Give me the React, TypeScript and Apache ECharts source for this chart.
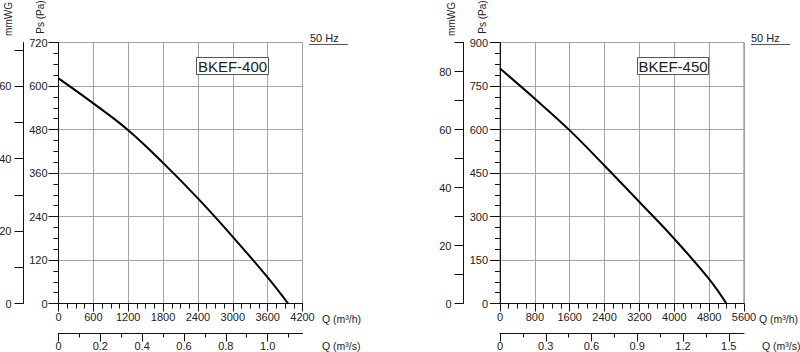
import React, { useEffect, useRef } from "react";
import * as echarts from "echarts";

// ---- Data ----
const flowL = [0, 600, 1200, 1800, 2400, 3000, 3600, 3952];
const pressureL = [621, 552, 478, 388, 290, 184, 72, 0];
const flowR = [0, 800, 1600, 2400, 3200, 4000, 4800, 5196];
const pressureR = [810, 706, 597, 475, 350, 223, 84, 0];

const titleL = "BKEF-400";
const titleR = "BKEF-450";
const freqLabel = "50 Hz";

// tick / label sets
const mmwgTicksL = [0, 10, 20, 30, 40, 50, 60, 70];
const mmwgLabelsL = [0, 20, 40, 60];
const mmwgTicksR = [0, 10, 20, 30, 40, 50, 60, 70, 80, 90];
const mmwgLabelsR = [0, 20, 40, 60, 80];
const qsMajorL = [0, 0.2, 0.4, 0.6, 0.8, 1.0];
const qsMinorL = [0.1, 0.3, 0.5, 0.7, 0.9, 1.1];
const qsMajorR = [0, 0.3, 0.6, 0.9, 1.2, 1.5];
const qsMinorR = [0.15, 0.45, 0.75, 1.05, 1.35];

const FONT = "Liberation Sans, Arial, Helvetica, sans-serif";
const TXT = "#222";
const AX = "#111";
const GRIDC = "#a3a3a3";

function qsFmt(v: number) {
  return v === 0 ? "0" : v.toFixed(1);
}

export default function App() {
  const ref = useRef<HTMLDivElement>(null);
  useEffect(() => {
    if (!ref.current) return;
    const chart = echarts.init(ref.current, null, { renderer: "svg" });

    const labelStyle = { color: TXT, fontSize: 11, fontFamily: FONT };

    const gridTop = 42.5;
    const gridBottom = 352 - 303.5;

    const mainX = (grid: number, max: number, interval: number) => ({
      type: "value",
      gridIndex: grid,
      position: "bottom",
      min: 0,
      max,
      interval,
      axisLine: { show: true, onZero: false, lineStyle: { color: AX, width: 1 } },
      axisTick: { show: true, length: 8, lineStyle: { color: AX } },
      minorTick: { show: true, splitNumber: 4, length: 5, lineStyle: { color: AX } },
      axisLabel: { ...labelStyle, margin: 8, formatter: (v: number) => String(v) },
      splitLine: { show: true, lineStyle: { color: GRIDC, width: 1 } },
      minorSplitLine: { show: false },
    });

    const paAxis = (grid: number, max: number, interval: number, margin: number) => ({
      type: "value",
      gridIndex: grid,
      position: "left",
      min: 0,
      max,
      interval,
      axisLine: { show: true, onZero: false, lineStyle: { color: AX, width: 1 } },
      axisTick: { show: true, length: 10, lineStyle: { color: AX } },
      minorTick: { show: true, splitNumber: 4, length: 5, lineStyle: { color: AX } },
      axisLabel: { ...labelStyle, margin, formatter: (v: number) => String(v) },
      splitLine: { show: true, lineStyle: { color: GRIDC, width: 1 } },
    });

    // m3/s axis in its own thin grid (major ticks + labels)
    const qsMajorAxis = (grid: number, max: number, majors: number[]) => ({
      type: "value",
      gridIndex: grid,
      position: "bottom",
      min: 0,
      max,
      interval: majors[1],
      axisLine: { show: true, onZero: false, lineStyle: { color: AX, width: 1 } },
      axisTick: { show: true, length: 8, customValues: majors, lineStyle: { color: AX } },
      axisLabel: { ...labelStyle, margin: 7, customValues: majors, formatter: qsFmt },
      splitLine: { show: false },
    });
    const qsMinorAxis = (grid: number, max: number, minors: number[]) => ({
      type: "value",
      gridIndex: grid,
      position: "bottom",
      min: 0,
      max,
      axisLine: { show: false, onZero: false },
      axisTick: { show: true, length: 4, customValues: minors, lineStyle: { color: AX } },
      axisLabel: { show: false },
      splitLine: { show: false },
    });

    // mmWG axis in its own thin grid
    const mmAxis = (grid: number, max: number, ticks: number[], labels: number[]) => ({
      type: "value",
      gridIndex: grid,
      position: "left",
      min: 0,
      max,
      interval: 10,
      axisLine: { show: true, onZero: false, lineStyle: { color: AX, width: 1 } },
      axisTick: { show: true, length: 9, customValues: ticks, lineStyle: { color: AX } },
      axisLabel: { ...labelStyle, margin: 12, customValues: labels, formatter: (v: number) => String(v) },
      splitLine: { show: false },
    });

    const hiddenAxis = (grid: number) => ({
      type: "value",
      gridIndex: grid,
      show: false,
      min: 0,
      max: 1,
    });

    const txt = (text: string, x: number, y: number, extra: any = {}) => ({
      type: "text",
      x,
      y,
      z: 10,
      ...(extra.rotation !== undefined ? { rotation: extra.rotation } : {}),
      style: {
        text,
        fill: TXT,
        fontSize: extra.fontSize || 11,
        fontFamily: FONT,
        align: extra.align || "left",
        verticalAlign: "middle",
      },
    });

    const graphic: any[] = [
      txt("mmWG", 8, 19, { rotation: Math.PI / 2, fontSize: 10, align: "center" }),
      txt("Ps (Pa)", 40, 17, { rotation: Math.PI / 2, fontSize: 10, align: "center" }),
      txt("Q (m³/h)", 322, 318.5, { fontSize: 10.5 }),
      txt("Q (m³/s)", 322, 346, { fontSize: 10.5 }),
      txt(freqLabel, 310, 38, { fontSize: 11 }),
      { type: "line", z: 10, shape: { x1: 309, y1: 44.5, x2: 348, y2: 44.5 }, style: { stroke: "#555", lineWidth: 1 } },
      { type: "rect", z: 10, shape: { x: 196.5, y: 57.5, width: 72, height: 17 }, style: { fill: "#fff", stroke: "#555", lineWidth: 1 } },
      txt(titleL, 232.5, 66.5, { fontSize: 15, align: "center" }),
      txt("mmWG", 451.5, 19, { rotation: Math.PI / 2, fontSize: 10, align: "center" }),
      txt("Ps (Pa)", 482, 17, { rotation: Math.PI / 2, fontSize: 10, align: "center" }),
      txt("Q (m³/h)", 759, 318.5, { fontSize: 10.5 }),
      txt("Q (m³/s)", 762, 346, { fontSize: 10.5 }),
      txt(freqLabel, 751, 38, { fontSize: 11 }),
      { type: "line", z: 10, shape: { x1: 751, y1: 44.5, x2: 790, y2: 44.5 }, style: { stroke: "#555", lineWidth: 1 } },
      { type: "rect", z: 10, shape: { x: 637.5, y: 57.5, width: 71, height: 17 }, style: { fill: "#fff", stroke: "#555", lineWidth: 1 } },
      txt(titleR, 673, 66.5, { fontSize: 15, align: "center" }),
    ];

    chart.setOption({
      animation: false,
      backgroundColor: "#fff",
      textStyle: { fontFamily: FONT },
      grid: [
        // 0,1: main plots
        { left: 58.5, width: 244, top: gridTop, bottom: gridBottom, show: true, borderColor: "#777", borderWidth: 1, backgroundColor: "transparent" },
        { left: 500, width: 244, top: gridTop, bottom: gridBottom, show: true, borderColor: "#777", borderWidth: 1, backgroundColor: "transparent" },
        // 2,3: m3/s axes
        { left: 58.5, width: 244, top: 332.5, height: 1, show: false },
        { left: 500, width: 244, top: 332.5, height: 1, show: false },
        // 4,5: mmWG axes
        { left: 22.5, width: 1, top: gridTop, bottom: gridBottom, show: false },
        { left: 463.5, width: 1, top: gridTop, bottom: gridBottom, show: false },
      ],
      xAxis: [
        mainX(0, 4200, 600), // 0
        mainX(1, 5600, 800), // 1
        qsMajorAxis(2, 4200 / 3600, qsMajorL), // 2
        qsMinorAxis(2, 4200 / 3600, qsMinorL), // 3
        qsMajorAxis(3, 1.6, qsMajorR), // 4
        qsMinorAxis(3, 1.6, qsMinorR), // 5
        hiddenAxis(4), // 6
        hiddenAxis(5), // 7
      ],
      yAxis: [
        paAxis(0, 720, 120, 11), // 0
        paAxis(1, 900, 150, 12), // 1
        hiddenAxis(2), // 2
        hiddenAxis(3), // 3
        mmAxis(4, 72, mmwgTicksL, mmwgLabelsL), // 4
        mmAxis(5, 90, mmwgTicksR, mmwgLabelsR), // 5
      ],
      series: [
        {
          type: "line", xAxisIndex: 0, yAxisIndex: 0,
          data: flowL.map((q, i) => [q, pressureL[i]]),
          smooth: 0.4, showSymbol: false, symbol: "none",
          lineStyle: { color: "#000", width: 2 }, z: 5,
        },
        {
          type: "line", xAxisIndex: 1, yAxisIndex: 1,
          data: flowR.map((q, i) => [q, pressureR[i]]),
          smooth: 0.4, showSymbol: false, symbol: "none",
          lineStyle: { color: "#000", width: 2 }, z: 5,
        },
      ],
      graphic,
    });

    return () => chart.dispose();
  }, []);

  return (
    <div
      ref={ref}
      style={{ position: "fixed", left: 0, top: 0, width: 800, height: 352, background: "#fff" }}
    />
  );
}
